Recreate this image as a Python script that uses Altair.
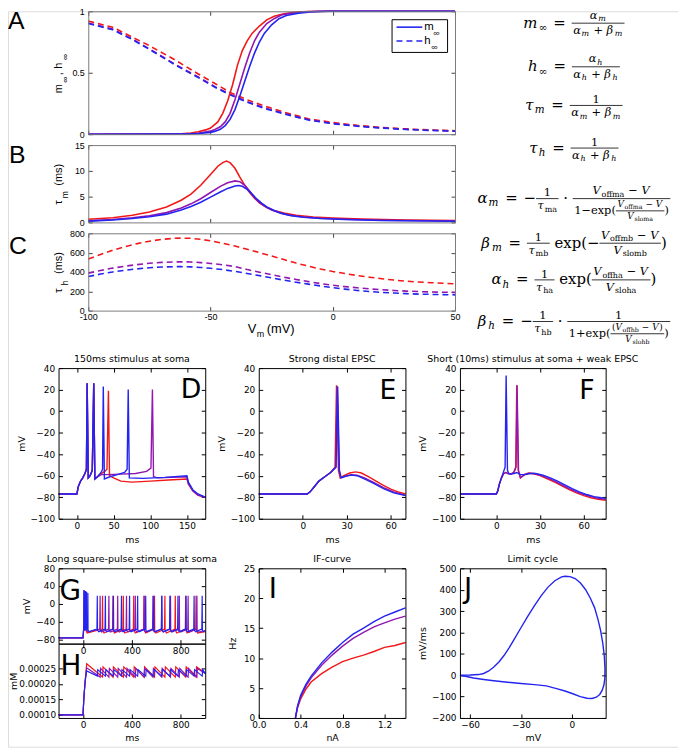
import altair as alt
import pandas as pd

SANS = "DejaVu Sans"
HELV = "Liberation Sans"
SERIF = "DejaVu Serif"
RED, PUR, BLU = "#f21818", "#9216b0", "#2424f0"
ONE = pd.DataFrame({"k": [0]})

# ---------------- Panel A: steady state activation / inactivation ----------------
m_red_v = [-100, -70, -62, -58, -55, -52, -50, -47, -45, -43, -41, -40, -39, -37, -35, -33, -30, -27, -24, -20, -15, -10, 0, 50]
m_red = [0, 0.001, 0.004, 0.01, 0.02, 0.035, 0.05, 0.1, 0.17, 0.27, 0.4, 0.48, 0.56, 0.68, 0.76, 0.82, 0.88, 0.93, 0.96, 0.98, 0.993, 0.998, 1, 1]
m_pur_v = [-100, -65, -60, -55, -50, -48, -46, -44, -42, -40, -38, -36, -34, -32, -30, -27, -24, -21, -17, -11, -5, 50]
m_pur = [0, 0.001, 0.002, 0.008, 0.025, 0.04, 0.06, 0.1, 0.17, 0.28, 0.41, 0.54, 0.66, 0.76, 0.83, 0.9, 0.94, 0.97, 0.985, 0.996, 1, 1]
m_blu_v = [-100, -65, -60, -55, -50, -48, -46, -44, -42, -40, -38, -36, -34, -32, -30, -28, -25, -22, -19, -14, -9, -2, 50]
m_blu = [0, 0.0005, 0.001, 0.005, 0.015, 0.025, 0.04, 0.07, 0.12, 0.2, 0.31, 0.43, 0.55, 0.66, 0.75, 0.82, 0.89, 0.94, 0.965, 0.985, 0.995, 1, 1]
h_v = [-100, -90, -82, -75, -65, -55, -48, -42, -35, -28, -20, -10, 0, 10, 20, 30, 40, 50]
h_red = [0.92, 0.87, 0.79, 0.72, 0.61, 0.49, 0.41, 0.34, 0.28, 0.23, 0.18, 0.125, 0.095, 0.072, 0.055, 0.043, 0.034, 0.028]
h_pur = [0.905, 0.855, 0.775, 0.695, 0.575, 0.465, 0.385, 0.325, 0.265, 0.215, 0.17, 0.12, 0.088, 0.067, 0.052, 0.04, 0.032, 0.026]
h_blu = [0.9, 0.85, 0.77, 0.69, 0.57, 0.46, 0.38, 0.32, 0.26, 0.21, 0.165, 0.115, 0.085, 0.065, 0.05, 0.038, 0.03, 0.025]

# ---------------- Panel B: tau_m ----------------
tm_red_v = [-100, -90, -82, -75, -68, -62, -58, -54, -50, -47, -45, -43.5, -42, -40, -38, -36, -34, -32, -30, -27, -24, -20, -15, -8, 0, 12, 30, 50]
tm_red = [0.6, 0.9, 1.4, 2.0, 3.0, 4.3, 5.5, 7.2, 9.3, 10.9, 11.6, 11.9, 11.6, 10.5, 8.8, 7.2, 5.8, 4.7, 3.8, 2.9, 2.3, 1.8, 1.4, 1.05, 0.85, 0.65, 0.48, 0.38]
tm_pur_v = [-100, -90, -82, -75, -68, -62, -58, -54, -50, -46, -43, -40, -38, -36, -34, -32, -30, -28, -25, -22, -18, -12, -5, 5, 20, 50]
tm_pur = [0.3, 0.55, 0.9, 1.3, 1.9, 2.8, 3.6, 4.6, 5.8, 7.0, 7.7, 8.05, 7.9, 7.2, 6.1, 4.8, 3.9, 3.2, 2.4, 1.9, 1.45, 1.05, 0.8, 0.6, 0.42, 0.27]
tm_blu_v = [-100, -90, -82, -75, -68, -62, -58, -54, -50, -46, -43, -40, -38.5, -37, -35, -33, -31, -29, -27, -24, -21, -17, -12, -5, 5, 20, 50]
tm_blu = [0.25, 0.45, 0.75, 1.1, 1.6, 2.4, 3.1, 3.9, 4.9, 5.9, 6.6, 7.05, 7.15, 7.0, 6.4, 5.5, 4.5, 3.7, 3.0, 2.3, 1.75, 1.3, 1.0, 0.75, 0.55, 0.38, 0.22]

# ---------------- Panel C: tau_h ----------------
th_v = [-100, -95, -90, -85, -80, -75, -70, -65, -62, -58, -54, -50, -45, -40, -35, -30, -25, -20, -15, -10, -5, 0, 5, 10, 15, 20, 25, 30, 35, 40, 45, 50]
th_red = [535, 580, 625, 662, 693, 718, 737, 748, 750, 748, 738, 722, 697, 668, 635, 600, 565, 528, 492, 460, 430, 405, 383, 363, 346, 330, 316, 305, 296, 289, 283, 278]
th_pur = [388, 415, 440, 460, 476, 490, 499, 504, 505, 503, 497, 488, 474, 456, 425, 398, 372, 346, 322, 300, 280, 262, 248, 236, 225, 216, 208, 202, 197, 193, 190, 188]
th_blu = [352, 378, 400, 418, 432, 444, 451, 455, 455, 453, 447, 438, 424, 406, 385, 362, 338, 315, 294, 274, 255, 237, 222, 209, 198, 189, 182, 176, 171, 168, 165, 163]

# ---------------- Panel D: 150 ms stimulus ----------------
d_red_t = [-25, 0, 2, 5, 8, 11, 13, 14, 15.5, 18, 21, 23, 24.5, 28, 33, 38, 41, 43, 44.5, 50, 60, 75, 100, 125, 150, 152, 158, 165, 175]
d_red_v = [-77, -77, -70, -65, -62, -58, -54, 26, -62, -60, -55, 26, -63, -61, -58, -56, -54, 19, -60, -62, -65, -66, -65, -64, -63, -68, -74, -78, -80]
d_pur_t = [-25, 0, 2, 5, 8, 11, 13, 14, 15.5, 18, 21, 23, 24.5, 28, 33, 40, 60, 80, 95, 101, 103, 104.5, 110, 150, 152, 158, 165, 175]
d_pur_v = [-77, -77, -70, -65, -62, -58, -54, 26, -62, -60, -55, 26, -63, -61, -59, -59, -58.5, -58, -56, -53, 20, -61, -62, -61, -67, -74, -78, -80]
d_blu_t = [-25, 0, 2, 5, 8, 11, 13, 14, 15.5, 18, 21, 23, 24.5, 28, 33, 35, 36, 37.5, 45, 55, 65, 68.5, 70, 71.5, 90, 120, 150, 152, 158, 165, 175]
d_blu_v = [-77, -77, -70, -65, -62, -58, -54, 26, -62, -60, -55, 26, -63, -61, -57, -54, 23, -63, -61, -59, -57, -54, 20, -62, -62.5, -61.5, -60, -66, -73, -77, -80]

# ---------------- Panel E: strong distal EPSC ----------------
e_red_t = [-30, 3, 5, 8, 11, 15, 19, 22, 23, 24.3, 25.5, 28, 32, 36, 40, 45, 50, 55, 60, 65, 70]
e_red_v = [-77, -77, -75, -70, -65, -61, -57, -52, 24, -55, -62, -60, -57.5, -56.5, -57.5, -61, -65, -69, -72.5, -75, -77]
e_pur_t = [-30, 3, 5, 8, 11, 15, 19, 22.5, 23.5, 24.8, 26, 29, 33, 37, 42, 48, 55, 62, 70]
e_pur_v = [-77, -77, -75, -70, -65, -61, -57, -52, 23, -55, -62, -60.5, -59, -59.5, -62, -66, -71, -75, -78]
e_blu_t = [-30, 3, 5, 8, 11, 15, 19, 22.7, 23.8, 25, 26.2, 29, 33, 37, 42, 48, 55, 62, 70]
e_blu_v = [-77, -77, -75, -70, -65, -61, -57, -52, 23, -55, -62, -60.5, -59.5, -60, -63, -67, -72, -76, -78.5]

# ---------------- Panel F: short stimulus + weak EPSC ----------------
f_red_t = [-25, 0, 1, 2, 3.5, 5, 6.5, 8, 10, 12, 13.3, 14, 15, 16.5, 19, 22, 25, 30, 35, 40, 45, 50, 55, 60, 65, 70, 75]
f_red_v = [-77, -77, -74, -68, -62, -58, -57, -58, -58.5, -57, -52, 24, -55, -62, -59, -57.5, -58, -60, -63, -66, -69.5, -73, -76, -78.5, -80.5, -82, -82.8]
f_pur_t = [-25, 0, 1, 2, 3.5, 5, 6.5, 8, 10, 12, 13.5, 14.2, 15.2, 16.5, 19, 22, 26, 30, 35, 40, 45, 50, 55, 60, 65, 70, 75]
f_pur_v = [-77, -77, -74, -68, -62, -58, -57, -58, -58.5, -57, -52, 24, -55, -62, -59.5, -58, -58, -59.5, -62, -65, -68.5, -72, -75, -77.5, -79.5, -81, -82]
f_blu_t = [-25, 0, 1, 2, 3.5, 5, 6, 6.7, 7.6, 8.5, 10, 12, 14, 16.5, 19, 23, 27, 32, 37, 42, 47, 52, 57, 62, 67, 72, 75]
f_blu_v = [-77, -77, -74, -68, -62, -56, -52, 33, -55, -58, -58.5, -58, -57, -59, -59, -58, -58, -59.5, -62, -65, -68.5, -72, -75, -77.5, -79.5, -80.5, -81]

# ---------------- Panels G/H: long square pulse (spike times, ms) ----------------
g_blu_burst = [(8, 31), (18, 29), (28, 27), (40, 24)]
g_pur_burst = [(9, 30), (20, 28), (31, 26)]
g_red_burst = [(10, 30), (24, 27)]
g_blu_sp = [117, 183, 249, 315, 381, 447, 513, 579, 645, 711, 777, 843, 909, 975]
g_pur_sp = [140, 212, 284, 356, 428, 500, 572, 644, 716, 788, 860, 932]
g_red_sp = [160, 245, 330, 415, 500, 585, 670, 755, 840, 925]
g_trough = {"red": -66, "pur": -64, "blu": -63}
h_levels = {"red": (0.000265, 0.000255, 0.000222), "pur": (0.000252, 0.00025, 0.000222), "blu": (0.000242, 0.000246, 0.000225)}

# ---------------- Panel I: IF curve ----------------
if_x = [0.35, 0.37, 0.4, 0.45, 0.5, 0.6, 0.7, 0.8, 0.9, 1.0, 1.1, 1.2, 1.3, 1.4]
if_blu = [0, 2.0, 3.8, 5.6, 7.0, 9.2, 11.0, 12.6, 14.0, 15.0, 16.1, 17.0, 17.7, 18.4]
if_pur = [0, 1.8, 3.5, 5.3, 6.7, 8.8, 10.5, 12.0, 13.3, 14.3, 15.2, 15.9, 16.5, 17.0]
if_red = [0, 1.7, 3.2, 4.8, 6.0, 7.4, 8.5, 9.4, 10.0, 10.5, 11.1, 11.8, 12.1, 12.6]

# ---------------- Panel J: limit cycle ----------------
j_v = [-66, -60, -55, -52, -49, -46, -43, -40, -37, -34, -30, -26, -22, -18, -14, -10, -6, -4, -1, 2, 5, 8, 11, 13.5, 15.5, 17, 18.3, 19.2, 19.6, 19.5, 19, 18, 16.5, 14.5, 12, 9, 5, 1, -4, -9, -15, -22, -30, -38, -46, -52, -58, -62, -66]
j_dv = [0, 1, 3, 8, 20, 38, 62, 92, 128, 168, 222, 275, 325, 372, 412, 442, 460, 463, 461, 452, 432, 402, 360, 315, 260, 210, 150, 90, 30, -15, -45, -70, -90, -103, -109, -108, -100, -88, -74, -63, -50, -44, -39, -33, -26, -20, -13, -6, 0]

# ================= geometry (page pixels) =================
OX, OY = 8, 7          # page position of the chart origin
WC, HC = 676, 742      # chart size


def cx(p):
    return p - OX


def cy(p):
    return p - OY


class Panel:
    def __init__(self, l, t, r, b, xdom, ydom):
        self.l, self.t, self.r, self.b, self.xdom, self.ydom = l, t, r, b, xdom, ydom

    def xs(self):
        return alt.Scale(domain=list(self.xdom), range=[cx(self.l), cx(self.r)], nice=False, zero=False)

    def ys(self):
        return alt.Scale(domain=list(self.ydom), range=[cy(self.b), cy(self.t)], nice=False, zero=False)


VD = [-100, 50]
PA = Panel(89, 7, 459, 131, VD, [0, 1])
PB = Panel(89, 142, 459, 220, VD, [0, 15])
PC = Panel(89, 231, 459, 309, VD, [0, 800])
PD = Panel(59, 367, 207, 519, [-25, 175], [-100, 40])
PE = Panel(261, 367, 409, 519, [-30, 70], [-100, 40])
PF = Panel(464, 367, 611, 519, [-25, 75], [-100, 40])
PG = Panel(59, 569, 207, 645, [-200, 1000], [-90, 80])
PH = Panel(59, 645, 207, 720, [-200, 1000], [0.00009, 0.00033])
PI = Panel(261, 569, 409, 720, [0, 1.4], [0, 25])
PJ = Panel(464, 569, 611, 720, [-66, 20], [-200, 500])

layers = []


def line(P, xs, ys, color, width=1.4, dash=None):
    df = pd.DataFrame({"x": xs, "y": ys, "i": list(range(len(xs)))})
    kw = dict(color=color, strokeWidth=width)
    if dash:
        kw["strokeDash"] = dash
    layers.append(alt.Chart(df).mark_line(**kw).encode(
        x=alt.X("x:Q", scale=P.xs(), axis=None),
        y=alt.Y("y:Q", scale=P.ys(), axis=None),
        order="i:Q"))


def txt(text, x, y, size, font=SANS, P=None, angle=None, align="center", baseline="middle",
        style=None, color="black"):
    if P is not None:
        x, y = P.l + x, P.t + y
    kw = dict(text=text, fontSize=size, font=font, align=align, baseline=baseline, color=color)
    if angle is not None:
        kw["angle"] = angle
    if style:
        kw["fontStyle"] = style
    layers.append(alt.Chart(ONE).mark_text(**kw).encode(x=alt.value(cx(x)), y=alt.value(cy(y))))


def rule(x1, x2, y, color, width, dash=None, P=None):
    if P is not None:
        x1, x2, y = P.l + x1, P.l + x2, P.t + y
    kw = dict(color=color, strokeWidth=width)
    if dash:
        kw["strokeDash"] = dash
    layers.append(alt.Chart(ONE).mark_rule(**kw).encode(
        x=alt.value(cx(x1)), x2=alt.value(cx(x2)), y=alt.value(cy(y))))


def frame(P, color):
    layers.append(alt.Chart(ONE).mark_rect(fillOpacity=0, stroke=color, strokeWidth=1).encode(
        x=alt.value(cx(P.l) + 0.5), x2=alt.value(cx(P.r) + 0.5),
        y=alt.value(cy(P.t) + 0.5), y2=alt.value(cy(P.b) + 0.5)))


TICKKEYS = ("values", "tickColor", "tickSize", "grid", "domain", "tickWidth")


def axes(P, xb, yl):
    d = pd.DataFrame({"x": list(P.xdom), "y": list(P.ydom)})
    b = alt.Chart(d).mark_point(opacity=0)
    xb = dict(xb, orient="bottom", offset=cy(P.b) - 4 - HC)
    yl = dict(yl, orient="left", offset=-(cx(P.l) + 4))
    layers.append(b.encode(x=alt.X("x:Q", scale=P.xs(), axis=alt.Axis(**xb)),
                           y=alt.Y("y:Q", scale=P.ys(), axis=alt.Axis(**yl))))
    xt = {k: v for k, v in xb.items() if k in TICKKEYS}
    xt.update(orient="top", labels=False, title=None, offset=-(cy(P.t) + 4))
    yt = {k: v for k, v in yl.items() if k in TICKKEYS}
    yt.update(orient="right", labels=False, title=None, offset=cx(P.r) - 4 - WC)
    layers.append(b.encode(x=alt.X("x:Q", scale=P.xs(), axis=alt.Axis(**xt)),
                           y=alt.Y("y:Q", scale=P.ys(), axis=alt.Axis(**yt))))


MPL = dict(grid=False, domain=False, tickColor="black", tickSize=4, tickWidth=1,
           labelFont=SANS, labelFontSize=9, labelColor="black", labelFlush=False, labelOverlap=False,
           labelBound=False, titleFont=SANS, titleFontSize=9.5, titleFontWeight="normal",
           titleColor="black")


def mx(values, title=None, fmt=None, pad=3, tpad=4):
    d = dict(MPL, values=values, labelPadding=pad, titlePadding=tpad)
    d["title"] = title
    if fmt:
        d["format"] = fmt
    return d


def my(values, title=None, fmt=None, pad=4, tpad=4):
    return mx(values, title, fmt, pad, tpad)


MAT = dict(grid=False, domain=False, tickColor="#444444", tickSize=4, tickWidth=1,
           labelFont=HELV, labelFontSize=9, labelColor="black", labelPadding=4, labelFlush=False,
           labelOverlap=False, labelBound=False, title=None, labelExpr="'' + datum.value")

XT = [-100, -50, 0, 50]
LW = 1.6
GRAY = "#7a7a7a"

# ================= Panel A =================
axes(PA, dict(MAT, values=XT, labels=False), dict(MAT, values=[0, 0.5, 1]))
line(PA, h_v, h_red, RED, LW, [6, 4])
line(PA, h_v, h_pur, PUR, LW, [6, 4])
line(PA, h_v, h_blu, BLU, LW, [6, 4])
line(PA, m_red_v, m_red, RED, LW)
line(PA, m_pur_v, m_pur, PUR, LW)
line(PA, m_blu_v, m_blu, BLU, LW)
frame(PA, GRAY)
layers.append(alt.Chart(ONE).mark_rect(fill="white", stroke="black", strokeWidth=1).encode(
    x=alt.value(cx(PA.l + 306) + 0.5), x2=alt.value(cx(PA.l + 362) + 0.5),
    y=alt.value(cy(PA.t + 8) + 0.5), y2=alt.value(cy(PA.t + 41) + 0.5)))
rule(311, 337, 16, BLU, LW, P=PA)
rule(311, 337, 30, BLU, LW, [6, 4], P=PA)
txt("m", 339, 19, 11.5, HELV, PA, align="left", baseline="alphabetic")
txt("∞", 348, 25, 9, HELV, PA, align="left", baseline="alphabetic")
txt("h", 339, 33, 11.5, HELV, PA, align="left", baseline="alphabetic")
txt("∞", 346, 39, 9, HELV, PA, align="left", baseline="alphabetic")
txt("m", -30, 78, 11, HELV, PA, angle=270)
txt("∞", -23, 69, 8.5, HELV, PA, angle=270)
txt(",", -30, 63, 11, HELV, PA, angle=270)
txt("h", -30, 55, 11, HELV, PA, angle=270)
txt("∞", -23, 46, 8.5, HELV, PA, angle=270)
txt("A", -81, 18, 25, HELV, PA, align="left", baseline="alphabetic")

# ================= Panel B =================
axes(PB, dict(MAT, values=XT, labels=False), dict(MAT, values=[0, 5, 10, 15]))
line(PB, tm_red_v, tm_red, RED, LW)
line(PB, tm_pur_v, tm_pur, PUR, LW)
line(PB, tm_blu_v, tm_blu, BLU, LW)
frame(PB, GRAY)
txt("τ", -30, 58, 11.5, HELV, PB, angle=270)
txt("m", -23, 50, 8.5, HELV, PB, angle=270)
txt("(ms)", -30, 30, 11, HELV, PB, angle=270)
txt("B", -80, 18, 25, HELV, PB, align="left", baseline="alphabetic")

# ================= Panel C =================
axes(PC, dict(MAT, values=XT, labelPadding=2), dict(MAT, values=[0, 200, 400, 600, 800]))
line(PC, th_v, th_red, RED, LW, [6, 4])
line(PC, th_v, th_pur, PUR, LW, [6, 4])
line(PC, th_v, th_blu, BLU, LW, [6, 4])
frame(PC, GRAY)
txt("τ", -30, 58, 11.5, HELV, PC, angle=270)
txt("h", -23, 50, 8.5, HELV, PC, angle=270)
txt("(ms)", -30, 30, 11, HELV, PC, angle=270)
txt("V", 161, 101, 13, HELV, PC, align="left", baseline="alphabetic")
txt("m", 170, 105, 9, HELV, PC, align="left", baseline="alphabetic")
txt("(mV)", 180, 101, 13, HELV, PC, align="left", baseline="alphabetic")
txt("C", -80, 21, 25, HELV, PC, align="left", baseline="alphabetic")

# ================= Equations =================
W = {" ": 0.318, "(": 0.39, ")": 0.39, "+": 0.838, "=": 0.838, "−": 0.838, "·": 0.318, "1": 0.636,
     "a": 0.596, "b": 0.64, "e": 0.592, "f": 0.37, "h": 0.644, "l": 0.32, "m": 0.948, "o": 0.602,
     "p": 0.64, "s": 0.513, "x": 0.564, "V": 0.722, "α": 0.66, "β": 0.64, "τ": 0.55, "∞": 0.838}
eq_texts, eq_rules = [], []
ITAL_EXTRA = 0.08   # extra advance after italic glyph runs (slant)


def tlen(t):
    return sum(W.get(c, 0.6) for c in t)


def piece_w(t, k, size):
    sz = size if k in ("i", "r") else 0.7 * size
    return tlen(t) * sz + (ITAL_EXTRA * sz if k in ("i", "si") else 0)


class Run:
    def __init__(self, items, size):
        self.items, self.size = items, size
        self.w = sum(piece_w(t, k, size) for t, k in items)
        sub = any(k in ("si", "sr") for t, k in items)
        self.above = 0.45 * size
        self.below = (0.5 if sub else 0.3) * size

    def draw(self, x, ax):
        base = ax + 0.3 * self.size
        for t, k in self.items:
            sub = k in ("si", "sr")
            sz = 0.7 * self.size if sub else self.size
            lead = len(t) - len(t.lstrip(" "))
            eq_texts.append(dict(x=x + lead * W[" "] * sz, y=base + (0.22 * self.size if sub else 0),
                                 t=t.strip(" "), s=sz, it=k in ("i", "si")))
            x += piece_w(t, k, self.size)


class Space:
    def __init__(self, w):
        self.w, self.above, self.below = w, 0, 0

    def draw(self, x, ax):
        pass


class Frac:
    def __init__(self, num, den, pad=1.5, gap=2.2):
        self.num, self.den, self.pad, self.gap = num, den, pad, gap
        self.w = max(num.w, den.w) + 2 * pad
        self.above = gap + num.below + num.above
        self.below = gap + den.above + den.below

    def draw(self, x, ax):
        eq_rules.append(dict(x=x, x2=x + self.w, y=ax))
        self.num.draw(x + (self.w - self.num.w) / 2, ax - self.gap - self.num.below)
        self.den.draw(x + (self.w - self.den.w) / 2, ax + self.gap + self.den.above)


class Seq:
    def __init__(self, boxes):
        self.boxes = boxes
        self.w = sum(b.w for b in boxes)
        self.above = max(b.above for b in boxes)
        self.below = max(b.below for b in boxes)

    def draw(self, x, ax):
        for b in self.boxes:
            b.draw(x, ax)
            x += b.w


S, F, N = 15, 11.5, 9
EQ = Seq([Space(6), Run([("=", "r")], S), Space(6)])


def sym(g, s, size=S):
    return Run([(g, "i"), (s, "si")], size)


def voff(sub, size, paren=False):
    items = [("V", "i"), (sub, "sr"), (" − ", "r"), ("V", "i")]
    if paren:
        items = [("(", "r")] + items + [(")", "r")]
    return Run(items, size)


def ab(g):
    return Run([("α", "i"), (g, "si"), (" + ", "r"), ("β", "i"), (g, "si")], F)


equations = [
    (Seq([Run([("m", "i"), ("∞", "sr")], S), EQ, Frac(sym("α", "m", F), ab("m"))]), 19),
    (Seq([Run([("h", "i"), ("∞", "sr")], S), EQ, Frac(sym("α", "h", F), ab("h"))]), 63),
    (Seq([sym("τ", "m"), EQ, Frac(Run([("1", "r")], F), ab("m"))]), 102),
    (Seq([sym("τ", "h"), EQ, Frac(Run([("1", "r")], F), ab("h"))]), 145),
    (Seq([sym("α", "m"), EQ, Run([("−", "r")], S),
          Frac(Run([("1", "r")], F), Run([("τ", "i"), ("ma", "sr")], F)),
          Run([(" · ", "r")], S),
          Frac(voff("offma", F),
               Seq([Run([("1−exp(", "r")], F),
                    Frac(voff("offma", N), Run([("V", "i"), ("sloma", "sr")], N), gap=1.6),
                    Run([(")", "r")], F)]))]), 196),
    (Seq([sym("β", "m"), EQ,
          Frac(Run([("1", "r")], F), Run([("τ", "i"), ("mb", "sr")], F)),
          Run([(" exp(−", "r")], S),
          Frac(voff("offmb", F), Run([("V", "i"), ("slomb", "sr")], F)),
          Run([(")", "r")], S)]), 241),
    (Seq([sym("α", "h"), EQ,
          Frac(Run([("1", "r")], F), Run([("τ", "i"), ("ha", "sr")], F)),
          Run([(" exp(", "r")], S),
          Frac(voff("offha", F), Run([("V", "i"), ("sloha", "sr")], F)),
          Run([(")", "r")], S)]), 278),
    (Seq([sym("β", "h"), EQ, Run([("−", "r")], S),
          Frac(Run([("1", "r")], F), Run([("τ", "i"), ("hb", "sr")], F)),
          Run([(" · ", "r")], S),
          Frac(Run([("1", "r")], F),
               Seq([Run([("1+exp(", "r")], F),
                    Frac(voff("offhb", N, True), Run([("V", "i"), ("slohb", "sr")], N), gap=1.6),
                    Run([(")", "r")], F)]))]), 320),
]
EQ_CX = 579
for box, ay in equations:
    box.draw(EQ_CX - box.w / 2, ay)

et = pd.DataFrame(eq_texts)
et["x"] = et["x"] - OX
et["y"] = et["y"] - OY
er = pd.DataFrame(eq_rules)
er["x"] = er["x"] - OX
er["x2"] = er["x2"] - OX
er["y"] = er["y"] - OY
for italic in (True, False):
    sub = et[et["it"] == italic]
    mk = dict(font=SERIF, align="left", baseline="alphabetic", color="black")
    if italic:
        mk["fontStyle"] = "italic"
    layers.append(alt.Chart(sub).mark_text(**mk).encode(
        x=alt.X("x:Q", scale=None), y=alt.Y("y:Q", scale=None), text="t:N",
        size=alt.Size("s:Q", scale=None)))
layers.append(alt.Chart(er).mark_rule(color="black", strokeWidth=0.8).encode(
    x=alt.X("x:Q", scale=None), x2="x2:Q", y=alt.Y("y:Q", scale=None)))

# ================= Panels D, E, F =================
YT = [-100, -80, -60, -40, -20, 0, 20, 40]
LW2 = 1.4


def trio(P, r, p, b):
    line(P, r[0], r[1], RED, LW2)
    line(P, p[0], p[1], PUR, LW2)
    line(P, b[0], b[1], BLU, LW2)


def ptitle(P, text, gap=9):
    txt(text, (P.r - P.l) / 2, -gap, 9.5, SANS, P)


axes(PD, mx([0, 50, 100, 150], "ms"), my(YT, "mV"))
trio(PD, (d_red_t, d_red_v), (d_pur_t, d_pur_v), (d_blu_t, d_blu_v))
frame(PD, "black")
txt("D", 144, 30, 27, SANS, PD, align="right", baseline="alphabetic")
ptitle(PD, "150ms stimulus at soma")

axes(PE, mx([0, 30, 60], "ms"), my(YT, "mV"))
trio(PE, (e_red_t, e_red_v), (e_pur_t, e_pur_v), (e_blu_t, e_blu_v))
frame(PE, "black")
txt("E", 139, 31, 27, SANS, PE, align="right", baseline="alphabetic")
ptitle(PE, "Strong distal EPSC")

axes(PF, mx([0, 30, 60], "ms"), my(YT, "mV"))
trio(PF, (f_red_t, f_red_v), (f_pur_t, f_pur_v), (f_blu_t, f_blu_v))
frame(PF, "black")
txt("F", 136, 31, 27, SANS, PF, align="right", baseline="alphabetic")
ptitle(PF, "Short (10ms) stimulus at soma + weak EPSC")


# ================= Panels G, H =================
def g_trace(burst, spikes, trough):
    xs, ys = [-200, 0], [-77, -77]
    for t, pk in burst:
        xs += [t - 1.5, t, t + 1.5]
        ys += [-50, pk, -60]
    xs.append(burst[-1][0] + 10)
    ys.append(trough)
    for t in spikes:
        xs += [t - 3, t, t + 2, t + 12]
        ys += [-57, 18, -60, trough]
    xs.append(1000)
    ys.append(trough + 3)
    return xs, ys


def h_trace(spikes, lv):
    peak0, peak, trough = lv
    xs, ys = [-200, 0, 8, 18, 30], [0.0001, 0.0001, 0.00016, 0.00021, peak0]
    for t in spikes:
        xs += [t, t + 4]
        ys += [trough, peak]
    xs.append(1000)
    ys.append(trough + (peak - trough) * 0.4)
    return xs, ys


axes(PH, mx([0, 400, 800], "ms", tpad=3), my([0.0001, 0.00015, 0.0002, 0.00025], "mM", ".5f", pad=3, tpad=0))
for spk, key, col in ((g_red_sp, "red", RED), (g_pur_sp, "pur", PUR), (g_blu_sp, "blu", BLU)):
    xs, ys = h_trace(spk, h_levels[key])
    line(PH, xs, ys, col, 1.2)
frame(PH, "black")
txt("H", 2, 32, 28, SANS, PH, align="left", baseline="alphabetic")

axes(PG, mx([0, 400, 800]), my([80, 40, 0, -40, -80], "mV"))
for burst, spk, key, col in ((g_red_burst, g_red_sp, "red", RED), (g_pur_burst, g_pur_sp, "pur", PUR),
                             (g_blu_burst, g_blu_sp, "blu", BLU)):
    xs, ys = g_trace(burst, spk, g_trough[key])
    line(PG, xs, ys, col, 1.2)
frame(PG, "black")
txt("G", 1, 32, 28, SANS, PG, align="left", baseline="alphabetic")
ptitle(PG, "Long square-pulse stimulus at soma")

# ================= Panel I =================
axes(PI, mx([0, 0.4, 0.8, 1.2], "nA", ".1f", tpad=3), my([0, 5, 10, 15, 20, 25], "Hz", tpad=6))
line(PI, if_x, if_red, RED, LW2)
line(PI, if_x, if_pur, PUR, LW2)
line(PI, if_x, if_blu, BLU, LW2)
frame(PI, "black")
txt("I", 10, 30, 28, SANS, PI, align="left", baseline="alphabetic")
ptitle(PI, "IF-curve")

# ================= Panel J =================
axes(PJ, mx([-60, -30, 0], "mV", tpad=3), my([-200, -100, 0, 100, 200, 300, 400, 500], "mV/ms"))
line(PJ, j_v, j_dv, BLU, LW2)
frame(PJ, "black")
txt("J", 4, 30, 28, SANS, PJ, align="left", baseline="alphabetic")
ptitle(PJ, "Limit cycle")

chart = alt.layer(*layers).resolve_scale(x="independent", y="independent").properties(
    width=WC, height=HC, padding=0, autosize=alt.AutoSizeParams(type="none")
).configure_view(stroke=None).configure(background="white")

chart.save("out.html", embed_options={"renderer": "svg", "actions": False})
